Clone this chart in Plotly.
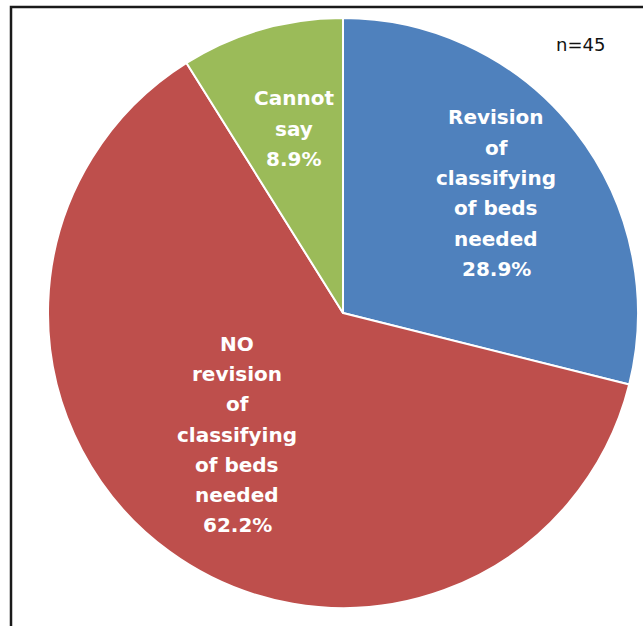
import math
import plotly.graph_objects as go

labels = ["Revision<br>of<br>classifying<br>of beds<br>needed",
          "NO<br>revision<br>of<br>classifying<br>of beds<br>needed",
          "Cannot<br>say"]
values = [28.9, 62.2, 8.9]
colors = ["#4F81BD", "#BE4F4C", "#9BBB59"]
n_label = "n=45"

W, H = 643, 626
cx, cy, R = 343, 313, 295
label_r = [0.66, 0.546, 0.647]
label_dang = [0.0, 5.0, 1.0]
LINE = 30.3

fig = go.Figure(go.Pie(
    values=values,
    labels=labels,
    sort=False,
    direction="clockwise",
    rotation=0,
    marker=dict(colors=colors, line=dict(color="white", width=2)),
    textinfo="none",
    hoverinfo="label+percent",
    showlegend=False,
    domain=dict(x=[(cx - R) / W, (cx + R) / W], y=[1 - (cy + R) / H, 1 - (cy - R) / H]),
))

total = sum(values)
cum = 0
annotations = []
for lab, v, rf, da in zip(labels, values, label_r, label_dang):
    mid = (cum + v / 2) / total * 2 * math.pi + math.radians(da)
    cum += v
    px = cx + rf * R * math.sin(mid)
    py = cy - rf * R * math.cos(mid)
    lines = lab.split("<br>") + [f"{v:.1f}%"]
    nl = len(lines)
    for i, ln in enumerate(lines):
        ly = py + (i - (nl - 1) / 2) * LINE
        annotations.append(dict(
            x=px / W, y=1 - ly / H, xref="paper", yref="paper",
            text=f"<b>{ln}</b>", showarrow=False,
            font=dict(family="DejaVu Sans, sans-serif", size=20, color="white"),
            align="center", xanchor="center", yanchor="middle",
        ))

annotations.append(dict(
    x=580 / W, y=1 - 45 / H, xref="paper", yref="paper",
    text=n_label, showarrow=False,
    font=dict(family="DejaVu Sans, sans-serif", size=18, color="#111111"),
    xanchor="center", yanchor="middle",
))

fig.update_layout(
    width=W, height=H,
    margin=dict(l=0, r=0, t=0, b=0),
    paper_bgcolor="white",
    plot_bgcolor="white",
    annotations=annotations,
    shapes=[dict(type="rect", xref="paper", yref="paper",
                 x0=11 / W, x1=1.05, y0=-0.05, y1=1 - 7 / H,
                 line=dict(color="#1a1a1a", width=2.5), layer="below")],
)

fig.write_html("out.html", config={"displayModeBar": False},
               post_script="document.body.style.margin='0';document.body.style.overflow='hidden';")
